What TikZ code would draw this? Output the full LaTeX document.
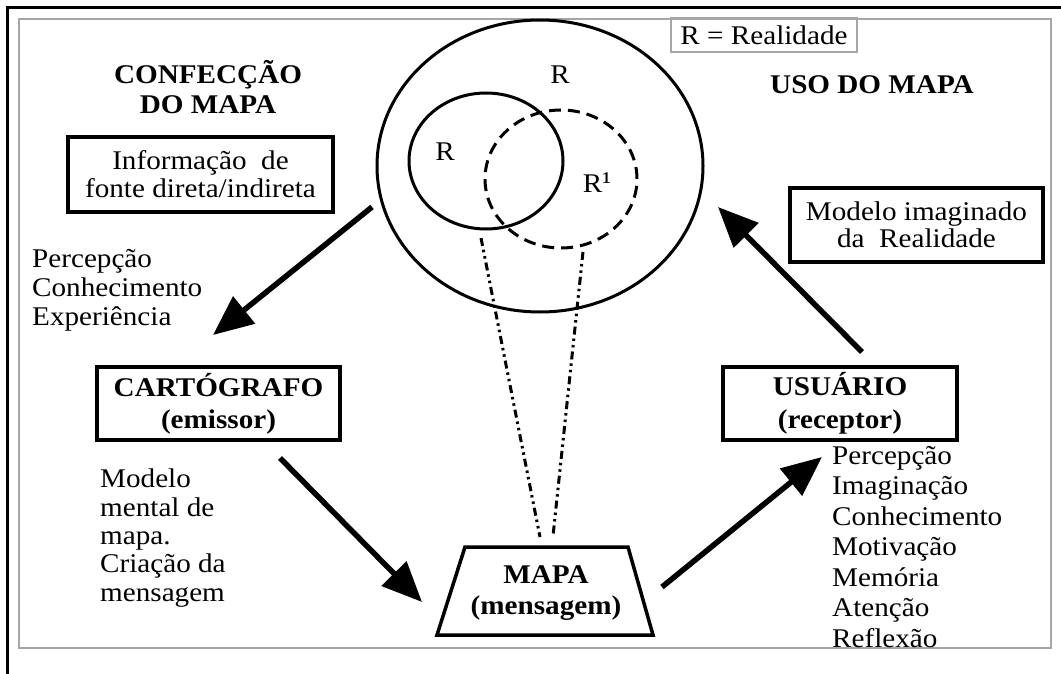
\documentclass[tikz,border=0pt]{standalone}
\usepackage{fontspec}
\setmainfont{Liberation Serif}[FakeStretch=1.08]
\usetikzlibrary{arrows.meta,shapes.geometric}
\begin{document}
\begin{tikzpicture}[x=1pt,y=-1pt,
  txt/.style={font=\fontsize{27}{29}\selectfont, inner sep=0pt},
  btxt/.style={font=\fontsize{27}{30}\selectfont\bfseries, inner sep=0pt},
  bx/.style={draw, line width=3.5pt, inner sep=0pt, align=center},
  ring/.style={draw, ellipse, line width=3pt, inner sep=0pt},
  bigarrow/.style={line width=5.5pt, -{Triangle[length=40pt,width=34pt]}},
  ddot/.style={line width=3pt, dash pattern=on 8pt off 4pt on 2.5pt off 4pt on 2.5pt off 4pt}]
\useasboundingbox (0,0) rectangle (1061,674);
% frames
\draw[line width=3pt] (7,674) -- (7,7.5) -- (1061,7.5);
\draw[gray!70, line width=2pt] (19,19) rectangle (1051,648);
% circles
\node[ring, minimum width=326pt, minimum height=292pt] (outer) at (540,166) {};
\node[ring, minimum width=154pt, minimum height=136pt] (inner) at (486,161) {};
\node[ring, dash pattern=on 12pt off 7pt, minimum width=152pt, minimum height=138pt] (dash) at (561,179) {};
\node[txt] (rtop) at (560,75) {R};
\node[txt] (rin) at (445,152) {R};
\node[txt] (rone) at (597,183) {R\raisebox{2pt}{¹}};
% legend
\node[draw=gray!70, line width=1.5pt, txt, minimum width=186pt, minimum height=34pt] (leg) at (764,35) {R = Realidade};
% titles
\node[btxt, align=center] (conf) at (208,87) {CONFECÇÃO\\DO MAPA};
\node[btxt] (uso) at (872,85) {USO DO MAPA};
% boxes
\node[bx, txt, minimum width=265pt, minimum height=75pt, font=\fontsize{27}{28}\selectfont] (info) at (200.5,174.5) {Informação~~de\\fonte direta/indireta};
\node[bx, btxt, minimum width=243pt, minimum height=73pt, font=\fontsize{27}{32}\selectfont\bfseries] (cart) at (218.5,403.5) {CARTÓGRAFO\\(emissor)};
\node[bx, txt, minimum width=253pt, minimum height=74pt, font=\fontsize{27}{27}\selectfont] (mod) at (916.5,225) {Modelo imaginado\\da~~Realidade};
\node[bx, btxt, minimum width=234pt, minimum height=73pt, font=\fontsize{27}{33}\selectfont\bfseries] (usu) at (840,403.5) {USUÁRIO\\(receptor)};
% lists
\node[txt, align=left, anchor=west, font=\fontsize{27}{29}\selectfont] (lst1) at (32,290) {Percepção\\Conhecimento\\Experiência};
\node[txt, align=left, anchor=west, font=\fontsize{27}{28.3}\selectfont] (lst2) at (100,538) {Modelo\\mental de\\mapa.\\Criação da\\mensagem};
\node[txt, align=left, anchor=west, font=\fontsize{27}{30.5}\selectfont] (lst3) at (832,547) {Percepção\\Imaginação\\Conhecimento\\Motivação\\Memória\\Atenção\\Reflexão};
% map trapezium
\coordinate (tl) at (465,547);
\coordinate (tr) at (628,547);
\coordinate (br) at (653,635);
\coordinate (bl) at (437,635);
\draw[line width=3.5pt, line join=miter] (tl) -- (tr) -- (br) -- (bl) -- cycle;
\node[btxt, align=center, font=\fontsize{27}{31}\selectfont\bfseries] (mapa) at (546,593) {MAPA\\(mensagem)};
% projection lines
\coordinate (p1) at (481,238);
\coordinate (p2) at (583,252);
\coordinate (m1) at (540,537);
\coordinate (m2) at (553,536);
\draw[ddot] (p1) -- (m1);
\draw[ddot] (p2) -- (m2);
% arrows
\coordinate (a1s) at (372,207); \coordinate (a1e) at (213,335);
\coordinate (a2s) at (280,458); \coordinate (a2e) at (422,602);
\coordinate (a3s) at (662,587); \coordinate (a3e) at (822,457);
\coordinate (a4s) at (862,352); \coordinate (a4e) at (718,207);
\draw[bigarrow] (a1s) -- (a1e);
\draw[bigarrow] (a2s) -- (a2e);
\draw[bigarrow] (a3s) -- (a3e);
\draw[bigarrow] (a4s) -- (a4e);
\end{tikzpicture}
\end{document}
